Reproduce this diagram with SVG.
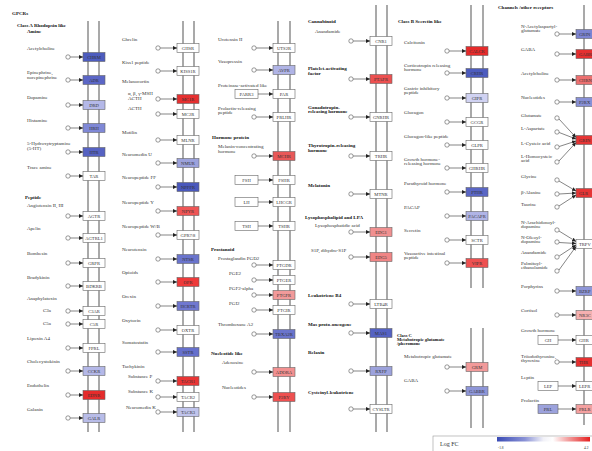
<svg xmlns="http://www.w3.org/2000/svg" width="592" height="451" viewBox="0 0 592 451">
<defs>
<marker id="ah" markerUnits="userSpaceOnUse" markerWidth="4" markerHeight="4" refX="4" refY="2" orient="auto"><path d="M0,0 L4,2 L0,4 z" fill="#222"/></marker>
<linearGradient id="lg" x1="0" x2="1" y1="0" y2="0">
<stop offset="0" stop-color="#3a4bb5"/><stop offset="0.3" stop-color="#8a92d6"/><stop offset="0.5" stop-color="#f2f2f8"/><stop offset="0.6" stop-color="#fff"/><stop offset="0.75" stop-color="#f4a8a8"/><stop offset="1" stop-color="#e52020"/>
</linearGradient>
</defs>
<style>
text{font-family:"Liberation Serif",serif;font-size:5px;fill:#333}
.h{font-weight:bold;fill:#111}
.b{stroke:#666;stroke-width:0.6}
.w{fill:#fff}
.bt{text-anchor:middle;font-size:4.6px}
.m{stroke:#8c8c8c;stroke-width:1.5}
.c{fill:#fff;stroke:#555;stroke-width:0.6}
.e{stroke:#333;stroke-width:0.6;fill:none;marker-end:url(#ah)}
</style>
<rect width="592" height="451" fill="#fff"/>
<text x="12" y="15" class="h">GPCRs</text>

<g id="membranes">
<line class="m" x1="88" y1="21" x2="88" y2="432"/><line class="m" x1="99" y1="21" x2="99" y2="432"/>
<line class="m" x1="183" y1="21" x2="183" y2="432"/><line class="m" x1="194" y1="21" x2="194" y2="432"/>
<line class="m" x1="278" y1="21" x2="278" y2="432"/><line class="m" x1="290" y1="21" x2="290" y2="432"/>
<line class="m" x1="376" y1="5" x2="376" y2="432"/><line class="m" x1="387" y1="5" x2="387" y2="432"/>
<line class="m" x1="471" y1="5" x2="471" y2="288"/><line class="m" x1="483" y1="5" x2="483" y2="288"/>
<line class="m" x1="471" y1="328" x2="471" y2="428"/><line class="m" x1="483" y1="328" x2="483" y2="428"/>
<line class="m" x1="584" y1="5" x2="584" y2="425"/>
</g>

<g id="headers">
<text x="17" y="27" class="h">Class A Rhodopsin like</text>
<text x="27" y="33" class="h">Amine</text>
<text x="25" y="199" class="h">Peptide</text>
<text x="212" y="139" class="h">Hormone protein</text>
<text x="211" y="251" class="h">Prostanoid</text>
<text x="211" y="355" class="h">Nucleotide like</text>
<text x="308" y="23" class="h">Cannabinoid</text>
<text x="305" y="219" class="h">Lysophospholipid and LPA</text>
<text x="398" y="23" class="h">Class B Secretin like</text>
<text x="397" y="337" class="h" style="font-size:4.6px">Class C</text>
<text x="397" y="341" class="h" style="font-size:4.6px">Metabotropic glutamate</text>
<text x="397" y="345" class="h" style="font-size:4.6px">/pheromone</text>
<text x="498" y="9" class="h">Channels /other receptors</text>
</g>

<!-- Column 1 -->
<g id="n-CHRM"><rect class="b" x="83" y="52.5" width="22" height="9" fill="#4d5cbe"/><text class="bt" x="94" y="58.7">CHRM</text></g>
<g id="l-acetylcholine1"><text x="27" y="49.7">Acetylcholine</text><circle class="c" cx="68" cy="57" r="2.2"/></g>
<g id="n-ADR"><rect class="b" x="83" y="75.5" width="22" height="9" fill="#5b66c6"/><text class="bt" x="94" y="81.7">ADR</text></g>
<g id="l-epinephrine"><text x="27" y="73.7">Epinephrine,</text><text x="27" y="78.7">norepinephrine</text><circle class="c" cx="68" cy="80" r="2.2"/></g>
<g id="n-DRD"><rect class="b" x="83" y="100.5" width="22" height="9" fill="#b4b8e8"/><text class="bt" x="94" y="106.7">DRD</text></g>
<g id="l-dopamine"><text x="27" y="98.7">Dopamine</text><circle class="c" cx="68" cy="105" r="2.2"/></g>
<g id="n-HRH"><rect class="b" x="83" y="123.5" width="22" height="9" fill="#7f88d6"/><text class="bt" x="94" y="129.7">HRH</text></g>
<g id="l-histamine"><text x="27" y="121.7">Histamine</text><circle class="c" cx="68" cy="128" r="2.2"/></g>
<g id="n-HTR"><rect class="b" x="83" y="147.5" width="22" height="9" fill="#5662c2"/><text class="bt" x="94" y="153.7">HTR</text></g>
<g id="l-5ht"><text x="27" y="144.7">5-Hydroxytryptamine</text><text x="27" y="149.7">(5-HT)</text><circle class="c" cx="68" cy="152" r="2.2"/></g>
<g id="n-TAR"><rect class="b w" x="83" y="171.5" width="22" height="9"/><text class="bt" x="94" y="177.7">TAR</text></g>
<g id="l-traceamine"><text x="27" y="168.7">Trace amine</text><circle class="c" cx="68" cy="176" r="2.2"/></g>
<g id="n-AGTR"><rect class="b w" x="83" y="211.5" width="22" height="9"/><text class="bt" x="94" y="217.7">AGTR</text></g>
<g id="l-angiotensin"><text x="27" y="206.7">Angiotensin II, III</text><circle class="c" cx="68" cy="216" r="2.2"/></g>
<g id="n-AGTRL1"><rect class="b w" x="83" y="233.5" width="22" height="9"/><text class="bt" x="94" y="239.7">AGTRL1</text></g>
<g id="l-apelin"><text x="27" y="229.7">Apelin</text><circle class="c" cx="68" cy="238" r="2.2"/></g>
<g id="n-GRPR"><rect class="b w" x="83" y="258.5" width="22" height="9"/><text class="bt" x="94" y="264.7">GRPR</text></g>
<g id="l-bombesin"><text x="27" y="254.7">Bombesin</text><circle class="c" cx="68" cy="263" r="2.2"/></g>
<g id="n-BDKRB"><rect class="b w" x="83" y="281.5" width="22" height="9"/><text class="bt" x="94" y="287.7">BDKRB</text></g>
<g id="l-bradykinin"><text x="27" y="278.7">Bradykinin</text><circle class="c" cx="68" cy="286" r="2.2"/></g>
<text x="27" y="299.7">Anaphylatoxin</text>
<g id="n-C3AR"><rect class="b w" x="83" y="306.5" width="22" height="9"/><text class="bt" x="94" y="312.7">C3AR</text></g>
<g id="l-c3a"><text x="43" y="311.7">C3a</text><circle class="c" cx="68" cy="311" r="2.2"/></g>
<g id="n-C5R"><rect class="b w" x="83" y="319.5" width="22" height="9"/><text class="bt" x="94" y="325.7">C5R</text></g>
<g id="l-c5a"><text x="43" y="324.7">C5a</text><circle class="c" cx="68" cy="324" r="2.2"/></g>
<g id="n-FPRL"><rect class="b w" x="83" y="343.5" width="22" height="9"/><text class="bt" x="94" y="349.7">FPRL</text></g>
<g id="l-lipoxin"><text x="27" y="339.7">Lipoxin A4</text><circle class="c" cx="68" cy="348" r="2.2"/></g>
<g id="n-CCKR"><rect class="b" x="83" y="366.5" width="22" height="9" fill="#b4b8e8"/><text class="bt" x="94" y="372.7">CCKR</text></g>
<g id="l-cck"><text x="27" y="362.7">Cholecystokinin</text><circle class="c" cx="68" cy="371" r="2.2"/></g>
<g id="n-EDNR"><rect class="b" x="83" y="390.5" width="22" height="9" fill="#e52b2b"/><text class="bt" x="94" y="396.7">EDNR</text></g>
<g id="l-endothelin"><text x="27" y="386.7">Endothelin</text><circle class="c" cx="68" cy="395" r="2.2"/></g>
<g id="n-GALR"><rect class="b" x="83" y="413.5" width="22" height="9" fill="#b8bce8"/><text class="bt" x="94" y="419.7">GALR</text></g>
<g id="l-galanin"><text x="27" y="410.7">Galanin</text><circle class="c" cx="68" cy="418" r="2.2"/></g>

<!-- Column 2 -->
<g id="n-GHSR"><rect class="b w" x="177" y="43.5" width="22" height="9"/><text class="bt" x="188" y="49.7">GHSR</text></g>
<g id="l-ghrelin"><text x="122" y="40.7">Ghrelin</text><circle class="c" cx="158" cy="48" r="2.2"/></g>
<g id="n-KISS1R"><rect class="b w" x="177" y="66.5" width="22" height="9"/><text class="bt" x="188" y="72.7">KISS1R</text></g>
<g id="l-kiss"><text x="122" y="63.7">Kiss1 peptide</text><circle class="c" cx="158" cy="71" r="2.2"/></g>
<text x="122" y="82.7">Melanocortin</text>
<g id="n-MC1R"><rect class="b" x="177" y="94.5" width="22" height="9" fill="#e53030"/><text class="bt" x="188" y="100.7">MC1R</text></g>
<g id="l-msh"><text x="128" y="95.2">α, β, γ-MSH</text><text x="128" y="100.2">ACTH</text><circle class="c" cx="158" cy="99" r="2.2"/></g>
<g id="n-MC2R"><rect class="b w" x="177" y="109.5" width="22" height="9"/><text class="bt" x="188" y="115.7">MC2R</text></g>
<g id="l-acth"><text x="128" y="109.7">ACTH</text><circle class="c" cx="158" cy="114" r="2.2"/></g>
<g id="n-MLNR"><rect class="b w" x="177" y="135.5" width="22" height="9"/><text class="bt" x="188" y="141.7">MLNR</text></g>
<g id="l-motilin"><text x="122" y="133.7">Motilin</text><circle class="c" cx="158" cy="140" r="2.2"/></g>
<g id="n-NMUR"><rect class="b" x="177" y="158.5" width="22" height="9" fill="#9ca2dc"/><text class="bt" x="188" y="164.7">NMUR</text></g>
<g id="l-nmu"><text x="122" y="155.7">Neuromedin U</text><circle class="c" cx="158" cy="163" r="2.2"/></g>
<g id="n-NPFFR"><rect class="b" x="177" y="182.5" width="22" height="9" fill="#4a58bc"/><text class="bt" x="188" y="188.7">NPFFR</text></g>
<g id="l-npff"><text x="122" y="178.7">Neuropeptide FF</text><circle class="c" cx="158" cy="187" r="2.2"/></g>
<g id="n-NPYR"><rect class="b" x="177" y="206.5" width="22" height="9" fill="#ee5555"/><text class="bt" x="188" y="212.7">NPYR</text></g>
<g id="l-npy"><text x="122" y="203.7">Neuropeptide Y</text><circle class="c" cx="158" cy="211" r="2.2"/></g>
<g id="n-GPR78"><rect class="b w" x="177" y="230.5" width="22" height="9"/><text class="bt" x="188" y="236.7">GPR7/8</text></g>
<g id="l-npwb"><text x="122" y="227.7">Neuropeptide W/B</text><circle class="c" cx="158" cy="235" r="2.2"/></g>
<g id="n-NTSR"><rect class="b" x="177" y="254.5" width="22" height="9" fill="#6a74cc"/><text class="bt" x="188" y="260.7">NTSR</text></g>
<g id="l-neurotensin"><text x="122" y="250.7">Neurotensin</text><circle class="c" cx="158" cy="259" r="2.2"/></g>
<g id="n-OPR"><rect class="b" x="177" y="277.5" width="22" height="9" fill="#ee3a3a"/><text class="bt" x="188" y="283.7">OPR</text></g>
<g id="l-opioids"><text x="122" y="273.7">Opioids</text><circle class="c" cx="158" cy="282" r="2.2"/></g>
<g id="n-HCRTR"><rect class="b" x="177" y="301.5" width="22" height="9" fill="#7078d0"/><text class="bt" x="188" y="307.7">HCRTR</text></g>
<g id="l-orexin"><text x="122" y="297.7">Orexin</text><circle class="c" cx="158" cy="306" r="2.2"/></g>
<g id="n-OXTR"><rect class="b w" x="177" y="325.5" width="22" height="9"/><text class="bt" x="188" y="331.7">OXTR</text></g>
<g id="l-oxytocin"><text x="122" y="321.7">Oxytocin</text><circle class="c" cx="158" cy="330" r="2.2"/></g>
<g id="n-SSTR"><rect class="b" x="177" y="347.5" width="22" height="9" fill="#6670cc"/><text class="bt" x="188" y="353.7">SSTR</text></g>
<g id="l-somatostatin"><text x="122" y="343.7">Somatostatin</text><circle class="c" cx="158" cy="352" r="2.2"/></g>
<text x="122" y="367.7">Tachykinin</text>
<g id="n-TACR1"><rect class="b" x="177" y="376.5" width="22" height="9" fill="#e83535"/><text class="bt" x="188" y="382.7">TACR1</text></g>
<g id="l-subp"><text x="128" y="377.7">Substance P</text><circle class="c" cx="158" cy="381" r="2.2"/></g>
<g id="n-TACR2"><rect class="b w" x="177" y="392.5" width="22" height="9"/><text class="bt" x="188" y="398.7">TACR2</text></g>
<g id="l-subk"><text x="128" y="392.7">Substance K</text><circle class="c" cx="158" cy="397" r="2.2"/></g>
<g id="n-TACR3"><rect class="b" x="177" y="407.5" width="22" height="9" fill="#c0c4ec"/><text class="bt" x="188" y="413.7">TACR3</text></g>
<g id="l-nmk"><text x="126" y="408.7">Neuromedin K</text><circle class="c" cx="158" cy="412" r="2.2"/></g>

<!-- Column 3 -->
<g id="n-UTS2R"><rect class="b w" x="273" y="43.5" width="22" height="9"/><text class="bt" x="284" y="49.7">UTS2R</text></g>
<g id="l-urotensin"><text x="218" y="40.7">Urotensin II</text><circle class="c" cx="254" cy="48" r="2.2"/></g>
<g id="n-AVPR"><rect class="b" x="273" y="65.5" width="22" height="9" fill="#b0b4e6"/><text class="bt" x="284" y="71.7">AVPR</text></g>
<g id="l-vasopressin"><text x="218" y="62.7">Vasopressin</text><circle class="c" cx="254" cy="70" r="2.2"/></g>
<text x="218" y="86.7">Proteinase-activated like</text>
<g id="n-PARR3"><rect class="b w" x="235" y="89.5" width="23" height="9"/><text class="bt" x="246.5" y="95.7">PARR3</text></g>
<g id="n-PAR"><rect class="b w" x="273" y="89.5" width="22" height="9"/><text class="bt" x="284" y="95.7">PAR</text></g>
<g id="n-PRLHR"><rect class="b w" x="273" y="112.5" width="22" height="9"/><text class="bt" x="284" y="118.7">PRLHR</text></g>
<g id="l-prlh"><text x="218" y="109.7">Prolactin-releasing</text><text x="218" y="114.2">peptide</text><circle class="c" cx="254" cy="117" r="2.2"/></g>
<g id="n-MCHR"><rect class="b" x="273" y="151.5" width="22" height="9" fill="#e85858"/><text class="bt" x="284" y="157.7">MCHR</text></g>
<g id="l-mch"><text x="218" y="147.7">Melanin-concentrating</text><text x="218" y="152.7">hormone</text><circle class="c" cx="254" cy="156" r="2.2"/></g>
<g id="n-FSH"><rect class="b w" x="235" y="175.5" width="23" height="9"/><text class="bt" x="246.5" y="181.7">FSH</text></g>
<g id="n-FSHR"><rect class="b w" x="273" y="175.5" width="22" height="9"/><text class="bt" x="284" y="181.7">FSHR</text></g>
<g id="n-LH"><rect class="b w" x="235" y="197.5" width="23" height="9"/><text class="bt" x="246.5" y="203.7">LH</text></g>
<g id="n-LHCGR"><rect class="b w" x="273" y="197.5" width="22" height="9"/><text class="bt" x="284" y="203.7">LHCGR</text></g>
<g id="n-TSH"><rect class="b w" x="235" y="221.5" width="23" height="9"/><text class="bt" x="246.5" y="227.7">TSH</text></g>
<g id="n-TSHR"><rect class="b w" x="273" y="221.5" width="22" height="9"/><text class="bt" x="284" y="227.7">TSHR</text></g>
<g id="n-PTGDR"><rect class="b w" x="273" y="260.5" width="22" height="9"/><text class="bt" x="284" y="266.7">PTGDR</text></g>
<g id="l-pgd2"><text x="218" y="259.7">Prostaglandin PGD2</text><circle class="c" cx="254" cy="265" r="2.2"/></g>
<g id="n-PTGER"><rect class="b w" x="273" y="275.5" width="22" height="9"/><text class="bt" x="284" y="281.7">PTGER</text></g>
<g id="l-pge2"><text x="229" y="274.7">PGE2</text><circle class="c" cx="254" cy="280" r="2.2"/></g>
<g id="n-PTGFR"><rect class="b" x="273" y="290.5" width="22" height="9" fill="#f29a9a"/><text class="bt" x="284" y="296.7">PTGFR</text></g>
<g id="l-pgf2"><text x="229" y="289.7">PGF2-alpha</text><circle class="c" cx="254" cy="295" r="2.2"/></g>
<g id="n-PTGIR"><rect class="b w" x="273" y="305.5" width="22" height="9"/><text class="bt" x="284" y="311.7">PTGIR</text></g>
<g id="l-pgi2"><text x="229" y="304.7">PGI2</text><circle class="c" cx="254" cy="310" r="2.2"/></g>
<g id="n-TBXA2R"><rect class="b" x="273" y="329.5" width="22" height="9" fill="#6a74cc"/><text class="bt" x="284" y="335.7">TBXA2R</text></g>
<g id="l-txa2"><text x="218" y="325.7">Thromboxane A2</text><circle class="c" cx="254" cy="334" r="2.2"/></g>
<g id="n-ADORA"><rect class="b" x="273" y="367.5" width="22" height="9" fill="#f29090"/><text class="bt" x="284" y="373.7">ADORA</text></g>
<g id="l-adenosine"><text x="222" y="363.7">Adenosine</text><circle class="c" cx="254" cy="372" r="2.2"/></g>
<g id="n-P2RY"><rect class="b" x="273" y="392.5" width="22" height="9" fill="#ee5050"/><text class="bt" x="284" y="398.7">P2RY</text></g>
<g id="l-nucleotides1"><text x="222" y="388.7">Nucleotides</text><circle class="c" cx="254" cy="397" r="2.2"/></g>

<!-- Column 4 -->
<g id="n-CNR1"><rect class="b w" x="370" y="36.5" width="22" height="9"/><text class="bt" x="381" y="42.7">CNR1</text></g>
<g id="l-anandamide1"><text x="315" y="32.7">Anandamide</text><circle class="c" cx="351" cy="41" r="2.2"/></g>
<g id="n-PTAFR"><rect class="b" x="370" y="74.5" width="22" height="9" fill="#ec5050"/><text class="bt" x="381" y="80.7">PTAFR</text></g>
<g id="l-paf"><text x="308" y="69.7" class="h">Platelet-activating</text><text x="308" y="74.7" class="h">factor</text><circle class="c" cx="351" cy="79" r="2.2"/></g>
<g id="n-GNRHR"><rect class="b w" x="370" y="112.5" width="22" height="9"/><text class="bt" x="381" y="118.7">GNRHR</text></g>
<g id="l-gnrh"><text x="308" y="108.7" class="h">Gonadotropin-</text><text x="308" y="113.2" class="h">releasing hormone</text><circle class="c" cx="351" cy="117" r="2.2"/></g>
<g id="n-TRHR"><rect class="b w" x="370" y="151.5" width="22" height="9"/><text class="bt" x="381" y="157.7">TRHR</text></g>
<g id="l-trh"><text x="308" y="146.7" class="h">Thyrotropin-releasing</text><text x="308" y="151.7" class="h">hormone</text><circle class="c" cx="351" cy="156" r="2.2"/></g>
<g id="n-MTNR"><rect class="b w" x="370" y="189.5" width="22" height="9"/><text class="bt" x="381" y="195.7">MTNR</text></g>
<g id="l-melatonin"><text x="308" y="186.7" class="h">Melatonin</text><circle class="c" cx="351" cy="194" r="2.2"/></g>
<g id="n-EDG1"><rect class="b" x="370" y="227.5" width="22" height="9" fill="#f09090"/><text class="bt" x="381" y="233.7">EDG1</text></g>
<g id="l-lpa"><text x="315" y="226.7">Lysophosphatidic acid</text><circle class="c" cx="351" cy="232" r="2.2"/></g>
<g id="n-EDG5"><rect class="b" x="370" y="252.5" width="22" height="9" fill="#f08585"/><text class="bt" x="381" y="258.7">EDG5</text></g>
<g id="l-s1p"><text x="311" y="251.7">S1P, dihydro-S1P</text><circle class="c" cx="351" cy="257" r="2.2"/></g>
<g id="n-LTB4R"><rect class="b w" x="370" y="299.5" width="22" height="9"/><text class="bt" x="381" y="305.7">LTB4R</text></g>
<g id="l-ltb4"><text x="308" y="296.7" class="h">Leukotriene B4</text><circle class="c" cx="351" cy="304" r="2.2"/></g>
<g id="n-MAS1"><rect class="b" x="370" y="328.5" width="22" height="9" fill="#5562c2"/><text class="bt" x="381" y="334.7">MAS1</text></g>
<g id="l-mas"><text x="308" y="325.7" class="h">Mas proto-oncogene</text><circle class="c" cx="351" cy="333" r="2.2"/></g>
<g id="n-RXFP"><rect class="b" x="370" y="366.5" width="22" height="9" fill="#9ca2dc"/><text class="bt" x="381" y="372.7">RXFP</text></g>
<g id="l-relaxin"><text x="308" y="353.7" class="h">Relaxin</text><circle class="c" cx="351" cy="371" r="2.2"/></g>
<g id="n-CYSLTR"><rect class="b w" x="370" y="404.5" width="22" height="9"/><text class="bt" x="381" y="410.7">CYSLTR</text></g>
<g id="l-cyslt"><text x="308" y="393.7" class="h">Cysteinyl-leukotriene</text><circle class="c" cx="351" cy="409" r="2.2"/></g>

<!-- Column 5 -->
<g id="n-CALCR"><rect class="b" x="466" y="46.5" width="22" height="9" fill="#e52b2b"/><text class="bt" x="477" y="52.7">CALCR</text></g>
<g id="l-calcitonin"><text x="404" y="43.7">Calcitonin</text><circle class="c" cx="447" cy="51" r="2.2"/></g>
<g id="n-CRHR"><rect class="b" x="466" y="68.5" width="22" height="9" fill="#4d5cbe"/><text class="bt" x="477" y="74.7">CRHR</text></g>
<g id="l-crh"><text x="404" y="66.7">Corticotropin releasing</text><text x="404" y="71.2">hormone</text><circle class="c" cx="447" cy="73" r="2.2"/></g>
<g id="n-GIPR"><rect class="b" x="466" y="93.5" width="22" height="9" fill="#d0d2f2"/><text class="bt" x="477" y="99.7">GIPR</text></g>
<g id="l-gip"><text x="404" y="89.7">Gastric inhibitory</text><text x="404" y="94.2">peptide</text><circle class="c" cx="447" cy="98" r="2.2"/></g>
<g id="n-GCGR"><rect class="b w" x="466" y="117.5" width="22" height="9"/><text class="bt" x="477" y="123.7">GCGR</text></g>
<g id="l-glucagon"><text x="404" y="113.7">Glucagon</text><circle class="c" cx="447" cy="122" r="2.2"/></g>
<g id="n-GLPR"><rect class="b w" x="466" y="140.5" width="22" height="9"/><text class="bt" x="477" y="146.7">GLPR</text></g>
<g id="l-glp"><text x="404" y="137.7">Glucagon-like peptide</text><circle class="c" cx="447" cy="145" r="2.2"/></g>
<g id="n-GHRHR"><rect class="b w" x="466" y="163.5" width="22" height="9"/><text class="bt" x="477" y="169.7">GHRHR</text></g>
<g id="l-ghrh"><text x="404" y="160.7">Growth hormone-</text><text x="404" y="165.2">releasing hormone</text><circle class="c" cx="447" cy="168" r="2.2"/></g>
<g id="n-PTHR"><rect class="b" x="466" y="187.5" width="22" height="9" fill="#5a66c4"/><text class="bt" x="477" y="193.7">PTHR</text></g>
<g id="l-pth"><text x="404" y="184.7">Parathyroid hormone</text><circle class="c" cx="447" cy="192" r="2.2"/></g>
<g id="n-PACAPR"><rect class="b" x="466" y="211.5" width="22" height="9" fill="#b0b4e6"/><text class="bt" x="477" y="217.7">PACAPR</text></g>
<g id="l-pacap"><text x="404" y="208.7">PACAP</text><circle class="c" cx="447" cy="216" r="2.2"/></g>
<g id="n-SCTR"><rect class="b w" x="466" y="235.5" width="22" height="9"/><text class="bt" x="477" y="241.7">SCTR</text></g>
<g id="l-secretin"><text x="404" y="231.7">Secretin</text><circle class="c" cx="447" cy="240" r="2.2"/></g>
<g id="n-VIPR"><rect class="b" x="466" y="258.5" width="22" height="9" fill="#ee5050"/><text class="bt" x="477" y="264.7">VIPR</text></g>
<g id="l-vip"><text x="404" y="254.7">Vasoactive intestinal</text><text x="404" y="259.2">peptide</text><circle class="c" cx="447" cy="263" r="2.2"/></g>
<g id="n-GRM"><rect class="b" x="466" y="362.5" width="22" height="9" fill="#f29a9a"/><text class="bt" x="477" y="368.7">GRM</text></g>
<g id="l-mglu"><text x="404" y="357.7">Metabotropic glutamate</text><circle class="c" cx="447" cy="367" r="2.2"/></g>
<g id="n-GABBR"><rect class="b" x="466" y="386.5" width="22" height="9" fill="#8e96d8"/><text class="bt" x="477" y="392.7">GABBR</text></g>
<g id="l-gaba1"><text x="404" y="381.7">GABA</text><circle class="c" cx="447" cy="391" r="2.2"/></g>

<!-- Column 6 -->
<g id="n-GRIN1"><rect class="b" x="576" y="29.5" width="22" height="9" fill="#7c84d2"/><text x="579" y="35.7" style="font-size:4.6px">GRIN</text></g>
<g id="l-naag"><text x="521" y="27.7">N-Acetylaspartyl-</text><text x="521" y="32.2">glutamate</text><circle class="c" cx="557" cy="34" r="2.2"/></g>
<g id="n-GABR"><rect class="b" x="576" y="49.5" width="22" height="9" fill="#e53030"/><text x="579" y="55.7" style="font-size:4.6px">GABR</text></g>
<g id="l-gaba2"><text x="521" y="50.7">GABA</text><circle class="c" cx="557" cy="54" r="2.2"/></g>
<g id="n-CHRN"><rect class="b" x="576" y="75.5" width="22" height="9" fill="#ec7070"/><text x="579" y="81.7" style="font-size:4.6px">CHRN</text></g>
<g id="l-acetylcholine2"><text x="521" y="74.7">Acetylcholine</text><circle class="c" cx="557" cy="80" r="2.2"/></g>
<g id="n-P2RX"><rect class="b" x="576" y="97.5" width="22" height="9" fill="#8890d6"/><text x="579" y="103.7" style="font-size:4.6px">P2RX</text></g>
<g id="l-nucleotides2"><text x="521" y="98.7">Nucleotides</text><circle class="c" cx="557" cy="102" r="2.2"/></g>
<g id="n-GRIN2"><rect class="b" x="576" y="135.5" width="22" height="9" fill="#e53535"/><text x="579" y="141.7" style="font-size:4.6px">GRIN</text></g>
<g id="l-glutamate"><text x="521" y="116.7">Glutamate</text><circle class="c" cx="557" cy="118" r="2.2"/></g>
<g id="l-aspartate"><text x="521" y="129.7">L-Aspartate</text><circle class="c" cx="557" cy="132" r="2.2"/></g>
<g id="l-cysteic"><text x="521" y="144.7">L-Cysteic acid</text><circle class="c" cx="557" cy="147" r="2.2"/></g>
<g id="l-homocysteic"><text x="521" y="157.7">L-Homocysteic</text><text x="521" y="162.2">acid</text><circle class="c" cx="557" cy="162" r="2.2"/></g>
<g id="n-GLR"><rect class="b" x="576" y="188.5" width="22" height="9" fill="#e53535"/><text x="579" y="194.7" style="font-size:4.6px">GLR</text></g>
<g id="l-glycine"><text x="521" y="177.7">Glycine</text><circle class="c" cx="557" cy="180" r="2.2"/></g>
<g id="l-balanine"><text x="521" y="193.7">β-Alanine</text><circle class="c" cx="557" cy="194" r="2.2"/></g>
<g id="l-taurine"><text x="521" y="205.7">Taurine</text><circle class="c" cx="557" cy="207" r="2.2"/></g>
<g id="n-TRPV"><rect class="b w" x="576" y="239.5" width="22" height="9"/><text x="579" y="245.7" style="font-size:4.6px">TRPV</text></g>
<g id="l-nadopamine"><text x="521" y="223.7">N-Arachidonoyl-</text><text x="521" y="228.2">dopamine</text><circle class="c" cx="557" cy="230" r="2.2"/></g>
<g id="l-nodopamine"><text x="521" y="238.7">N-Oleoyl-</text><text x="521" y="243.2">dopamine</text><circle class="c" cx="557" cy="242" r="2.2"/></g>
<g id="l-anandamide2"><text x="521" y="253.7">Anandamide</text><circle class="c" cx="557" cy="257" r="2.2"/></g>
<g id="l-palmitoyl"><text x="521" y="264.7">Palmitoyl-</text><text x="521" y="269.2">ethanolamide</text><circle class="c" cx="557" cy="271" r="2.2"/></g>
<g id="n-BZRP"><rect class="b" x="576" y="286.5" width="22" height="9" fill="#8e96d8"/><text x="579" y="292.7" style="font-size:4.6px">BZRP</text></g>
<g id="l-porphyrins"><text x="521" y="287.7">Porphyrins</text><circle class="c" cx="557" cy="291" r="2.2"/></g>
<g id="n-NR3C"><rect class="b" x="576" y="310.5" width="22" height="9" fill="#f5b0b0"/><text x="579" y="316.7" style="font-size:4.6px">NR3C</text></g>
<g id="l-cortisol"><text x="521" y="311.7">Cortisol</text><circle class="c" cx="557" cy="315" r="2.2"/></g>
<text x="521" y="331.7">Growth hormone</text>
<g id="n-GH"><rect class="b w" x="538" y="335.5" width="20" height="9"/><text class="bt" x="548" y="341.7">GH</text></g>
<g id="n-GHR"><rect class="b w" x="576" y="335.5" width="22" height="9"/><text x="579" y="341.7" style="font-size:4.6px">GHR</text></g>
<g id="n-THR"><rect class="b" x="576" y="357.5" width="22" height="9" fill="#e53030"/><text x="579" y="363.7" style="font-size:4.6px">THR</text></g>
<g id="l-t3"><text x="521" y="357.7">Triiodothyronine,</text><text x="521" y="362.2">thyroxine</text><circle class="c" cx="557" cy="362" r="2.2"/></g>
<text x="521" y="378.7">Leptin</text>
<g id="n-LEP"><rect class="b w" x="538" y="381.5" width="20" height="9"/><text class="bt" x="548" y="387.7">LEP</text></g>
<g id="n-LEPR"><rect class="b w" x="576" y="381.5" width="22" height="9"/><text x="579" y="387.7" style="font-size:4.6px">LEPR</text></g>
<text x="521" y="401.7">Prolactin</text>
<g id="n-PRL"><rect class="b" x="538" y="404.5" width="20" height="9" fill="#9ca2dc"/><text class="bt" x="548" y="410.7">PRL</text></g>
<g id="n-PRLR"><rect class="b" x="576" y="404.5" width="22" height="9" fill="#f4a0a0"/><text x="579" y="410.7" style="font-size:4.6px">PRLR</text></g>

<g id="connectors">
<!-- col1 -->
<line class="e" x1="70.2" y1="57" x2="83" y2="57"/>
<line class="e" x1="70.2" y1="80" x2="83" y2="80"/>
<line class="e" x1="70.2" y1="105" x2="83" y2="105"/>
<line class="e" x1="70.2" y1="128" x2="83" y2="128"/>
<line class="e" x1="70.2" y1="152" x2="83" y2="152"/>
<line class="e" x1="70.2" y1="176" x2="83" y2="176"/>
<line class="e" x1="70.2" y1="216" x2="83" y2="216"/>
<line class="e" x1="70.2" y1="238" x2="83" y2="238"/>
<line class="e" x1="70.2" y1="263" x2="83" y2="263"/>
<line class="e" x1="70.2" y1="286" x2="83" y2="286"/>
<line class="e" x1="70.2" y1="311" x2="83" y2="311"/>
<line class="e" x1="70.2" y1="324" x2="83" y2="324"/>
<line class="e" x1="70.2" y1="348" x2="83" y2="348"/>
<line class="e" x1="70.2" y1="371" x2="83" y2="371"/>
<line class="e" x1="70.2" y1="395" x2="83" y2="395"/>
<line class="e" x1="70.2" y1="418" x2="83" y2="418"/>
<!-- col2 -->
<line class="e" x1="160.2" y1="48" x2="177" y2="48"/>
<line class="e" x1="160.2" y1="71" x2="177" y2="71"/>
<line class="e" x1="160.2" y1="99" x2="177" y2="99"/>
<line class="e" x1="160.2" y1="114" x2="177" y2="114"/>
<line class="e" x1="160.2" y1="140" x2="177" y2="140"/>
<line class="e" x1="160.2" y1="163" x2="177" y2="163"/>
<line class="e" x1="160.2" y1="187" x2="177" y2="187"/>
<line class="e" x1="160.2" y1="211" x2="177" y2="211"/>
<line class="e" x1="160.2" y1="235" x2="177" y2="235"/>
<line class="e" x1="160.2" y1="259" x2="177" y2="259"/>
<line class="e" x1="160.2" y1="282" x2="177" y2="282"/>
<line class="e" x1="160.2" y1="306" x2="177" y2="306"/>
<line class="e" x1="160.2" y1="330" x2="177" y2="330"/>
<line class="e" x1="160.2" y1="352" x2="177" y2="352"/>
<line class="e" x1="160.2" y1="381" x2="177" y2="381"/>
<line class="e" x1="160.2" y1="397" x2="177" y2="397"/>
<line class="e" x1="160.2" y1="412" x2="177" y2="412"/>
<!-- col3 -->
<line class="e" x1="256.2" y1="48" x2="273" y2="48"/>
<line class="e" x1="256.2" y1="70" x2="273" y2="70"/>
<line class="e" x1="258" y1="94" x2="273" y2="94"/>
<line class="e" x1="256.2" y1="117" x2="273" y2="117"/>
<line class="e" x1="256.2" y1="156" x2="273" y2="156"/>
<line class="e" x1="258" y1="180" x2="273" y2="180"/>
<line class="e" x1="258" y1="202" x2="273" y2="202"/>
<line class="e" x1="258" y1="226" x2="273" y2="226"/>
<line class="e" x1="256.2" y1="265" x2="273" y2="265"/>
<line class="e" x1="256.2" y1="280" x2="273" y2="280"/>
<line class="e" x1="256.2" y1="295" x2="273" y2="295"/>
<line class="e" x1="256.2" y1="310" x2="273" y2="310"/>
<line class="e" x1="256.2" y1="334" x2="273" y2="334"/>
<line class="e" x1="256.2" y1="372" x2="273" y2="372"/>
<line class="e" x1="256.2" y1="397" x2="273" y2="397"/>
<!-- col4 -->
<line class="e" x1="353.2" y1="41" x2="370" y2="41"/>
<line class="e" x1="353.2" y1="79" x2="370" y2="79"/>
<line class="e" x1="353.2" y1="117" x2="370" y2="117"/>
<line class="e" x1="353.2" y1="156" x2="370" y2="156"/>
<line class="e" x1="353.2" y1="194" x2="370" y2="194"/>
<line class="e" x1="353.2" y1="232" x2="370" y2="232"/>
<line class="e" x1="353.2" y1="257" x2="370" y2="257"/>
<line class="e" x1="353.2" y1="304" x2="370" y2="304"/>
<line class="e" x1="353.2" y1="333" x2="370" y2="333"/>
<line class="e" x1="353.2" y1="371" x2="370" y2="371"/>
<line class="e" x1="353.2" y1="409" x2="370" y2="409"/>
<!-- col5 -->
<line class="e" x1="449.2" y1="51" x2="466" y2="51"/>
<line class="e" x1="449.2" y1="73" x2="466" y2="73"/>
<line class="e" x1="449.2" y1="98" x2="466" y2="98"/>
<line class="e" x1="449.2" y1="122" x2="466" y2="122"/>
<line class="e" x1="449.2" y1="145" x2="466" y2="145"/>
<line class="e" x1="449.2" y1="168" x2="466" y2="168"/>
<line class="e" x1="449.2" y1="192" x2="466" y2="192"/>
<line class="e" x1="449.2" y1="216" x2="466" y2="216"/>
<line class="e" x1="449.2" y1="240" x2="466" y2="240"/>
<line class="e" x1="449.2" y1="263" x2="466" y2="263"/>
<line class="e" x1="449.2" y1="367" x2="466" y2="367"/>
<line class="e" x1="449.2" y1="391" x2="466" y2="391"/>
<!-- col6 -->
<line class="e" x1="559.2" y1="34" x2="576" y2="34"/>
<line class="e" x1="559.2" y1="54" x2="576" y2="54"/>
<line class="e" x1="559.2" y1="80" x2="576" y2="80"/>
<line class="e" x1="559.2" y1="102" x2="576" y2="102"/>
<line class="e" x1="559" y1="119" x2="576" y2="137.5"/>
<line class="e" x1="559.2" y1="132.5" x2="576" y2="139"/>
<line class="e" x1="559.2" y1="146.5" x2="576" y2="141"/>
<line class="e" x1="559" y1="161" x2="576" y2="142.5"/>
<line class="e" x1="559" y1="181" x2="576" y2="191"/>
<line class="e" x1="559.2" y1="194" x2="576" y2="193"/>
<line class="e" x1="559" y1="206" x2="576" y2="195"/>
<line class="e" x1="559" y1="231" x2="576" y2="241.5"/>
<line class="e" x1="559.2" y1="242.5" x2="576" y2="243.5"/>
<line class="e" x1="559.2" y1="256" x2="576" y2="245"/>
<line class="e" x1="559" y1="270" x2="576" y2="246.5"/>
<line class="e" x1="559.2" y1="291" x2="576" y2="291"/>
<line class="e" x1="559.2" y1="315" x2="576" y2="315"/>
<line class="e" x1="558" y1="340" x2="576" y2="340"/>
<line class="e" x1="559.2" y1="362" x2="576" y2="362"/>
<line class="e" x1="558" y1="386" x2="576" y2="386"/>
<line class="e" x1="558" y1="409" x2="576" y2="409"/>
</g>

<g id="legend">
<rect x="433" y="436" width="162" height="18" fill="#fff" stroke="#999" stroke-width="0.6"/>
<text x="440" y="446" style="font-size:6px">Log FC</text>
<rect x="497" y="437" width="93" height="4.5" fill="url(#lg)"/>
<text x="498" y="449" style="font-size:3.5px">-1.8</text>
<text x="584" y="449" style="font-size:3.5px">4.2</text>
</g>
</svg>
